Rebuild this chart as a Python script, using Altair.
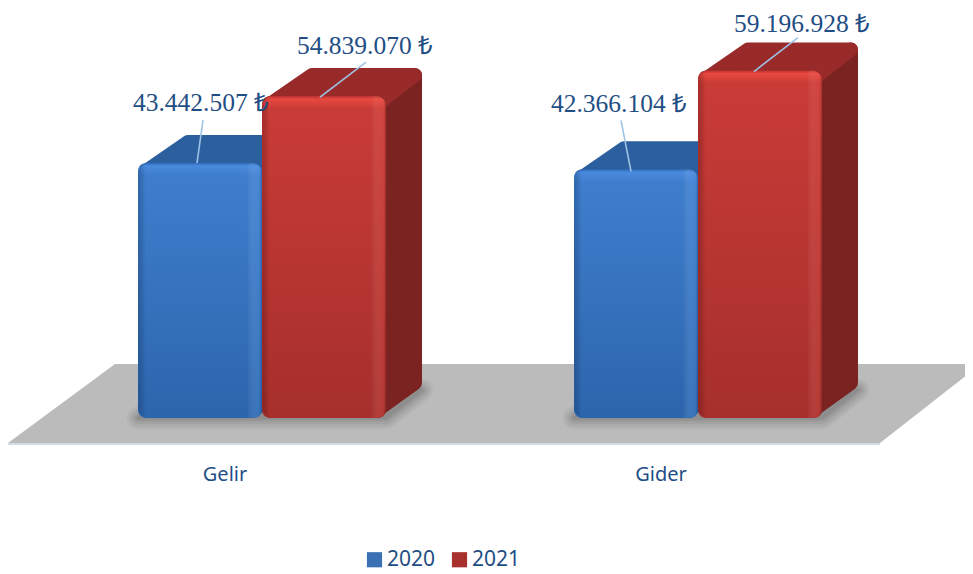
import altair as alt
import pandas as pd

categories = ["Gelir", "Gider"]
years = ["2020", "2021"]
values_2020 = [43442507, 42366104]
values_2021 = [54839070, 59196928]
label_texts_2020 = ["43.442.507 ₺", "42.366.104 ₺"]
label_texts_2021 = ["54.839.070 ₺", "59.196.928 ₺"]

# layout, in page pixels
W, H = 957, 564
BASE_Y = 418
PX_PER_M = 5.87
GROUP_LEFT = [138, 574]
BAR_W = 124
DX_L, DX_R, DY = 43, 36, 28
TEXT = "#1f4e85"
LEAD = "#9dc3e6"
# label placement relative to each bar's centre and top (dx, dy)
LABEL_OFF = [(1, -60), (41, -50), (-17, -65), (42, -47)]
LEAD_START = [(-3, 0), (-4, 1), (-5, 2), (-6, 1)]
LEAD_END = [(3, -43), (42, -34), (-15, -49), (38, -33)]


def up(px):
    """Convert a vertical pixel distance to value units."""
    return px / PX_PER_M * 1e6


def page_val(py):
    return up(BASE_Y - py)


X_SCALE = alt.Scale(domain=[8, 8 + W], nice=False, zero=False)
Y_SCALE = alt.Scale(domain=[page_val(8 + H), page_val(8)], nice=False, zero=False)
XQ = alt.X("x:Q", scale=X_SCALE, axis=None, title=None)
X2 = alt.X2("x2:Q")
Y = alt.Y("y:Q", scale=Y_SCALE, axis=None, title=None)
Y2 = alt.Y2("y2:Q")


def vgrad(stops):
    return alt.LinearGradient(gradient="linear", x1=0, y1=0, x2=0, y2=1,
                              stops=[alt.GradientStop(offset=o, color=c) for o, c in stops])


def hgrad(stops):
    return alt.LinearGradient(gradient="linear", x1=0, y1=0, x2=1, y2=0,
                              stops=[alt.GradientStop(offset=o, color=c) for o, c in stops])


def hband(rows, **kw):
    """Parallelogram with horizontal edges."""
    return alt.Chart(pd.DataFrame(rows, columns=["y", "x", "x2"])).mark_area(
        orient="horizontal", clip=True, **kw).encode(y=Y, x=XQ, x2=X2)


def vband(rows, **kw):
    """Parallelogram with vertical edges."""
    return alt.Chart(pd.DataFrame(rows, columns=["x", "y", "y2"])).mark_area(
        orient="vertical", clip=True, **kw).encode(x=XQ, y=Y, y2=Y2)


layers = []

# floor
layers.append(hband([(page_val(364), 115, 981), (page_val(443), 8, 880)], fill="#bbbbbb"))
layers.append(hband([(page_val(443), 8, 880), (page_val(445), 7, 880)], fill="#d3dae8"))

# soft shadow of each bar group on the floor
for gl in GROUP_LEFT:
    r = gl + 2 * BAR_W
    for sw, op in [(22, 0.05), (17, 0.06), (12, 0.07), (7, 0.09), (3, 0.1)]:
        layers.append(hband(
            [(page_val(BASE_Y - DY), gl + DX_L, r + DX_R), (page_val(BASE_Y), gl, r)],
            fill="#3a3a3a", stroke="#3a3a3a", strokeWidth=sw, strokeJoin="round",
            opacity=op))

# bars table
bars = []
for g, cat in enumerate(categories):
    bars.append(dict(cat=cat, year=years[0], v=values_2020[g], text=label_texts_2020[g],
                     left=GROUP_LEFT[g]))
    bars.append(dict(cat=cat, year=years[1], v=values_2021[g], text=label_texts_2021[g],
                     left=GROUP_LEFT[g] + BAR_W))
for b in bars:
    b["x"], b["x2"], b["y"], b["y2"] = b["left"], b["left"] + BAR_W, b["v"], 0
bars_df = pd.DataFrame(bars)

# flat base bars carry the colour scale and legend
layers.append(alt.Chart(bars_df).mark_bar(cornerRadius=8).encode(
    x=XQ, x2=X2, y=Y, y2=Y2,
    color=alt.Color("year:N",
                    scale=alt.Scale(domain=years, range=["#3a70b4", "#a8302d"]),
                    legend=alt.Legend(orient="none", legendX=356, legendY=541, direction="horizontal",
                                      title=None, symbolType="square", symbolSize=230,
                                      symbolStrokeWidth=0, labelFont="Noto Sans", labelFontSize=21,
                                      labelColor=TEXT, labelOffset=2, columnPadding=13, padding=0,
                                      symbolOpacity=1))))

PAL = {
    "2020": dict(side="#24507f", top="#2c5f9e", edge="#2f6ab8", bright="#4a8ade", up="#3e7dcc",
                 low="#2c65ac", hi="rgba(110,170,240,0.22)", dark="rgba(15,50,100,0.3)"),
    "2021": dict(side="#7b2321", top="#982b29", edge="#b8322f", bright="#e8483f", up="#c83b37",
                 low="#a62f2c", hi="rgba(240,110,100,0.2)", dark="rgba(90,15,15,0.3)"),
}

for i, b in enumerate(bars):
    c = PAL[b["year"]]
    L, R, v = b["x"], b["x2"], b["v"]
    inset = 7
    # side face
    layers.append(vband(
        [(R - 10, v - up(inset), up(inset)),
         (R + DX_R - inset, v + up(DY - inset), up(DY + inset))],
        fill=c["side"], stroke=c["side"], strokeWidth=2 * inset, strokeJoin="round"))
    # top face
    layers.append(hband(
        [(v + up(DY - inset), L + DX_L + inset, R + DX_R - inset), (v - up(8), L + 8, R - 8)],
        fill=c["top"], stroke=c["top"], strokeWidth=2 * inset, strokeJoin="round"))
    # front face
    h = b["v"] / 1e6 * PX_PER_M
    one = pd.DataFrame([b])
    layers.append(alt.Chart(one).mark_bar(
        cornerRadius=10,
        fill=vgrad([(0, c["edge"]), (3 / h, c["bright"]), (13 / h, c["up"]), (22 / h, c["up"]),
                    (1, c["low"])])).encode(x=XQ, x2=X2, y=Y, y2=Y2))
    # left and right bevels
    layers.append(alt.Chart(one).mark_bar(
        cornerRadius=10,
        fill=hgrad([(0, c["dark"]), (0.06, "rgba(0,0,0,0)"), (0.88, "rgba(255,255,255,0)"),
                    (0.95, c["hi"]), (0.975, c["hi"]), (1, c["dark"])])).encode(
        x=XQ, x2=X2, y=Y, y2=Y2))

# leader lines
for i, b in enumerate(bars):
    cx = b["x"] + BAR_W / 2
    sx, sy = LEAD_START[i]
    ex, ey = LEAD_END[i]
    row = pd.DataFrame([dict(x=cx + sx, x2=cx + ex, y=b["v"] - up(sy), y2=b["v"] - up(ey))])
    layers.append(alt.Chart(row).mark_rule(color=LEAD, strokeWidth=1.6).encode(
        x=XQ, x2=X2, y=Y, y2=Y2))

# value labels
lab = pd.DataFrame([
    dict(text=b["text"], x=b["x"] + BAR_W / 2 + LABEL_OFF[i][0], y=b["v"] - up(LABEL_OFF[i][1]))
    for i, b in enumerate(bars)])
layers.append(alt.Chart(lab).mark_text(font="Liberation Serif", fontSize=25.5, color=TEXT,
                                       align="center", baseline="middle").encode(
    x=XQ, y=Y, text="text:N"))

# category labels
cat_df = pd.DataFrame([
    dict(text=c, x=GROUP_LEFT[g] + BAR_W - 37, y=page_val(475)) for g, c in enumerate(categories)])
layers.append(alt.Chart(cat_df).mark_text(font="Noto Sans", fontSize=20, color=TEXT,
                                          align="center", baseline="middle").encode(
    x=XQ, y=Y, text="text:N"))

chart = alt.layer(*layers).properties(
    width=W, height=H, padding=0, autosize=alt.AutoSizeParams(type="none"),
    background="white",
).configure_view(strokeWidth=0)

chart.save("out.html", embed_options={"renderer": "svg", "actions": False})
